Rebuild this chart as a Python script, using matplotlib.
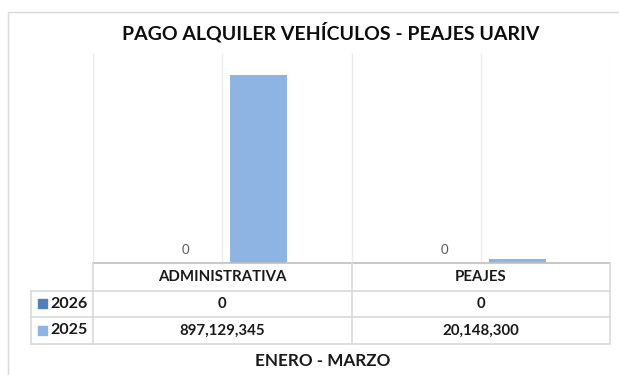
import matplotlib
matplotlib.use("Agg")
import matplotlib.pyplot as plt
import numpy as np
from matplotlib.patches import Rectangle

plt.rcParams['font.family'] = ['Lato', 'DejaVu Sans']

##########################
title = 'PAGO ALQUILER VEHÍCULOS - PEAJES UARIV'
xlabel = 'ENERO - MARZO'
categories = ['ADMINISTRATIVA', 'PEAJES']
series = ['2026', '2025']
val_2026 = [0, 0]
val_2025 = [897129345, 20148300]
colors = ['#4F7FBF', '#8EB4E3']
#########################
W, H = 619, 375
fig = plt.figure(figsize=(W / 100, H / 100), dpi=100)

# pixel-space layout for the plot area
px_left, px_right, px_top, px_base = 93, 610, 53, 263
ax = fig.add_axes([px_left / W, 1 - px_base / H,
                   (px_right - px_left) / W, (px_base - px_top) / H])
x = np.arange(len(categories))
bw = 0.22
off = 0.141
ax.bar(x - off, val_2026, bw, color=colors[0], zorder=3)
ax.bar(x + off, val_2025, bw, color=colors[1], zorder=3)
for xi, v in zip(x, val_2026):
    ax.text(xi - off, v + 3.5e7, '{:,}'.format(v), ha='center', va='bottom',
            fontsize=9.5, color='#595959')
ax.set_xlim(-0.5, len(categories) - 0.5)
ax.set_ylim(0, 1.0e9)
for g in np.arange(-0.5, len(categories), 0.5):
    ax.axvline(g, color='#EBEBEB', lw=1, zorder=1)
ax.axis('off')

# overlay in pixel coords for the data table and chart frame
ov = fig.add_axes([0, 0, 1, 1], zorder=-1)
ov.set_xlim(0, W)
ov.set_ylim(H, 0)
ov.axis('off')
ov.add_patch(Rectangle((8, 12), W, H, fill=False, ec='#D9D9D9', lw=1))

ov2 = fig.add_axes([0, 0, 1, 1])
ov2.set_xlim(0, W)
ov2.set_ylim(H, 0)
ov2.axis('off')
ov2.patch.set_alpha(0)

lc = '#D9D9D9'
tab_left = 31
rows_y = [263, 290.7, 317, 344]
col_w = (px_right - px_left) / len(categories)
ov2.plot([px_left, px_right], [rows_y[0]] * 2, color='#BFBFBF', lw=1.2)
for yy in rows_y[1:]:
    ov2.plot([tab_left, px_right], [yy, yy], color=lc, lw=1.2)
for i in range(len(categories) + 1):
    xx = px_left + i * col_w
    ov2.plot([xx, xx], [rows_y[0], rows_y[-1]], color=lc, lw=1.2)
ov2.plot([tab_left, tab_left], [rows_y[1], rows_y[-1]], color=lc, lw=1.2)

tc = '#1A1A1A'
for i, c in enumerate(categories):
    cx = px_left + (i + 0.5) * col_w
    ov2.text(cx, (rows_y[0] + rows_y[1]) / 2, c, ha='center', va='center',
             fontsize=10.8, fontweight='bold', color=tc)
    for r, vals in enumerate([val_2026, val_2025]):
        ov2.text(cx, (rows_y[r + 1] + rows_y[r + 2]) / 2, '{:,}'.format(vals[i]),
                 ha='center', va='center', fontsize=10.8, fontweight='bold', color=tc)
for r, s in enumerate(series):
    cy = (rows_y[r + 1] + rows_y[r + 2]) / 2
    ov2.add_patch(Rectangle((37.5, cy - 4.5), 9, 9, color=colors[r]))
    ov2.text(50, cy, s, ha='left', va='center', fontsize=11.5,
             fontweight='bold', color=tc)

ov2.text(331, 32, title, ha='center', va='center', fontsize=14,
         fontweight='bold', color='#0D0D0D')
ov2.text(323, 361, xlabel, ha='center', va='center', fontsize=12.3,
         fontweight='bold', color=tc)

fig.savefig('out.png', dpi=100)
